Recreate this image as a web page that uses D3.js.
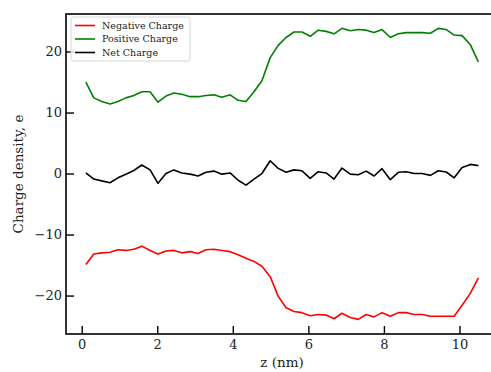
<!DOCTYPE html>
<html>
<head>
<meta charset="utf-8">
<script src="https://cdn.jsdelivr.net/npm/d3@7"></script>
<style>
  body { margin: 0; background: #fff; }
  svg { display: block; }
  svg text { font-family: "DejaVu Serif", serif; }
</style>
</head>
<body>
<svg id="chart" width="491" height="372"></svg>
<script>
// z positions of the bins (nm)
const zValues = [
  0.11, 0.32, 0.53, 0.75, 0.96, 1.17, 1.38, 1.59, 1.81, 2.02,
  2.23, 2.44, 2.65, 2.87, 3.08, 3.29, 3.50, 3.71, 3.93, 4.14,
  4.35, 4.56, 4.77, 4.99, 5.20, 5.41, 5.62, 5.83, 6.05, 6.26,
  6.47, 6.68, 6.89, 7.11, 7.32, 7.53, 7.74, 7.95, 8.17, 8.38,
  8.59, 8.80, 9.01, 9.23, 9.44, 9.65, 9.86, 10.07, 10.29, 10.50
];

const negativeCharge = [
  -14.9, -13.2, -13.0, -12.9, -12.5, -12.6, -12.4, -11.9, -12.6, -13.2,
  -12.7, -12.6, -13.0, -12.8, -13.1, -12.5, -12.4, -12.6, -12.8, -13.3,
  -13.9, -14.4, -15.2, -16.9, -20.1, -22.0, -22.6, -22.8, -23.3, -23.1,
  -23.2, -23.8, -22.9, -23.6, -23.9, -23.1, -23.5, -22.8, -23.4, -22.8,
  -22.8, -23.1, -23.1, -23.4, -23.4, -23.4, -23.4, -21.6, -19.6, -17.1
];

const positiveCharge = [
  15.0, 12.4, 11.8, 11.4, 11.8, 12.4, 12.8, 13.4, 13.4, 11.7,
  12.7, 13.2, 13.0, 12.6, 12.6, 12.8, 12.9, 12.5, 12.9, 12.0,
  11.8, 13.4, 15.2, 19.0, 21.0, 22.3, 23.2, 23.2, 22.5, 23.5,
  23.3, 22.9, 23.8, 23.4, 23.6, 23.5, 23.1, 23.6, 22.3, 22.9,
  23.1, 23.1, 23.1, 23.0, 23.8, 23.6, 22.7, 22.6, 21.1, 18.3
];

const netCharge = [
  0.1, -0.9, -1.2, -1.5, -0.7, -0.1, 0.5, 1.4, 0.6, -1.6,
  0.0, 0.6, 0.1, -0.1, -0.4, 0.2, 0.4, -0.1, 0.1, -1.1,
  -1.9, -0.9, 0.0, 2.1, 0.85, 0.2, 0.6, 0.45, -0.8, 0.3,
  0.1, -0.9, 0.9, -0.1, -0.2, 0.4, -0.4, 0.8, -1.0, 0.2,
  0.3, 0.0, 0.0, -0.3, 0.45, 0.25, -0.7, 1.0, 1.5, 1.3
];

const seriesNames = ['Negative Charge', 'Positive Charge', 'Net Charge'];
const seriesColors = ['#ff0000', '#008000', '#000000'];
const xTicks = [0, 2, 4, 6, 8, 10];
const yTicks = [-20, -10, 0, 10, 20];

const svg = d3.select('#chart');

// plot box (right spine falls just outside the picture)
const box = { left: 66, top: 14, right: 498, bottom: 334 };

const x = d3.scaleLinear().domain([-0.416, 11.02]).range([box.left, box.right]);
const y = d3.scaleLinear().domain([-26.3, 26.15]).range([box.bottom, box.top]);

// Axes — ticks point inward
const xAxis = svg.append('g')
  .attr('transform', `translate(0,${box.bottom})`)
  .call(d3.axisBottom(x).tickValues(xTicks).tickFormat(d3.format('d'))
    .tickSizeInner(-8).tickSizeOuter(0).tickPadding(6));

const yAxis = svg.append('g')
  .attr('transform', `translate(${box.left},0)`)
  .call(d3.axisLeft(y).tickValues(yTicks).tickFormat(d3.format('d'))
    .tickSizeInner(-8).tickSizeOuter(0).tickPadding(4));

[xAxis, yAxis].forEach(g => {
  g.attr('font-family', null).attr('font-size', null);
  g.select('.domain').remove();
  g.selectAll('.tick line').attr('stroke', '#000').attr('stroke-width', 1.4);
  g.selectAll('.tick text')
    .attr('fill', '#222')
    .attr('font-size', '13px');
});

// Series lines
const lineGen = d3.line()
  .x((d, i) => x(zValues[i]))
  .y(d => y(d));

const lines = svg.append('g').attr('class', 'lines');
[negativeCharge, positiveCharge, netCharge].forEach((values, k) => {
  lines.append('path')
    .datum(values)
    .attr('fill', 'none')
    .attr('stroke', seriesColors[k])
    .attr('stroke-width', 1.6)
    .attr('stroke-linejoin', 'round')
    .attr('d', lineGen);
});

// Spines
svg.append('rect')
  .attr('x', box.left)
  .attr('y', box.top)
  .attr('width', box.right - box.left)
  .attr('height', box.bottom - box.top)
  .attr('fill', 'none')
  .attr('stroke', '#000')
  .attr('stroke-width', 1.6);

// Axis titles
svg.append('text')
  .attr('x', (box.left + box.right) / 2)
  .attr('y', 367)
  .attr('text-anchor', 'middle')
  .attr('font-size', '13.5px')
  .attr('fill', '#222')
  .text('z (nm)');

svg.append('text')
  .attr('transform', `translate(23,${(box.top + box.bottom) / 2}) rotate(-90)`)
  .attr('text-anchor', 'middle')
  .attr('font-size', '13.5px')
  .attr('fill', '#222')
  .text('Charge density, e');

// Legend
const legend = svg.append('g').attr('transform', 'translate(71,17)');
legend.append('rect')
  .attr('width', 119)
  .attr('height', 44)
  .attr('rx', 2.5)
  .attr('fill', '#fff')
  .attr('fill-opacity', 0.8)
  .attr('stroke', '#d6d6d6')
  .attr('stroke-width', 1);

const rows = legend.selectAll('g.row')
  .data(seriesNames)
  .join('g')
  .attr('class', 'row')
  .attr('transform', (d, i) => `translate(0,${8.5 + i * 13.5})`);

rows.append('line')
  .attr('x1', 4).attr('x2', 24)
  .attr('stroke', (d, i) => seriesColors[i])
  .attr('stroke-width', 1.6);

rows.append('text')
  .attr('x', 31)
  .attr('dy', '0.35em')
  .attr('font-size', '9.5px')
  .attr('fill', '#222')
  .text(d => d);
</script>
</body>
</html>
